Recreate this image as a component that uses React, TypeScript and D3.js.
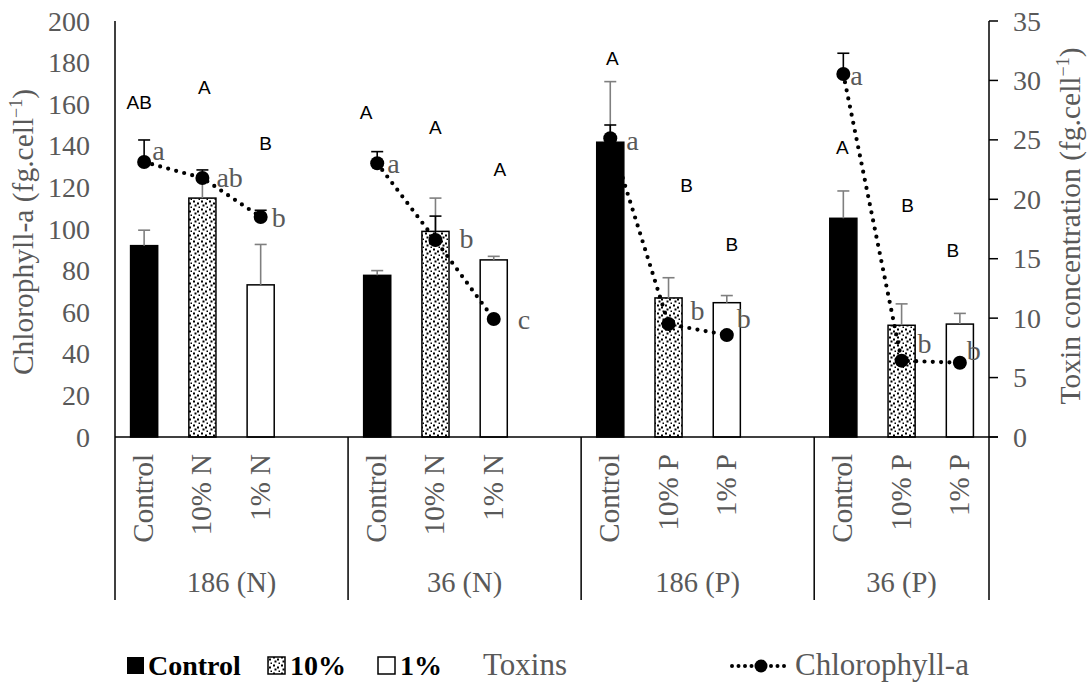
import React from "react";
import * as d3 from "d3";

// ---- data ----
const groups = ["186 (N)", "36 (N)", "186 (P)", "36 (P)"];
const treatments = [
  ["Control", "10% N", "1% N"],
  ["Control", "10% N", "1% N"],
  ["Control", "10% P", "1% P"],
  ["Control", "10% P", "1% P"],
];
const treatmentKinds = ["control", "ten", "one"];

// toxin concentration (fg.cell-1), bars on the right axis
const toxinMean = [
  [16.1, 20.1, 12.8],
  [13.6, 17.3, 14.9],
  [24.8, 11.7, 11.3],
  [18.4, 9.4, 9.5],
];
const toxinSd = [
  [1.3, 1.6, 3.4],
  [0.4, 2.8, 0.3],
  [5.1, 1.7, 0.6],
  [2.3, 1.8, 0.9],
];
// chlorophyll-a (fg.cell-1), dotted line on the left axis
const chlMean = [
  [132.2, 124.5, 105.8],
  [131.6, 94.7, 56.7],
  [143.6, 54.3, 49.0],
  [174.5, 36.7, 35.7],
];
const chlSd = [
  [10.6, 3.9, 3.2],
  [5.6, 11.5, 1.0],
  [6.4, 1.5, 1.5],
  [10.0, 1.0, 1.0],
];
const toxinLetters = [
  ["AB", "A", "B"],
  ["A", "A", "A"],
  ["A", "B", "B"],
  ["A", "B", "B"],
];
const chlLetters = [
  ["a", "ab", "b"],
  ["a", "b", "c"],
  ["a", "b", "b"],
  ["a", "b", "b"],
];
const leftTicks = [0, 20, 40, 60, 80, 100, 120, 140, 160, 180, 200];
const rightTicks = [0, 5, 10, 15, 20, 25, 30, 35];

// ---- layout ----
const W = 1088;
const H = 686;
const plotLeft = 115;
const plotRight = 989;
const plotTop = 21;
const plotBottom = 437;
const tableBottom = 600;

// significance letter placement: height in toxin units and x shift
const toxinLetterLevel = [
  [28.2, 29.4, 24.7],
  [27.3, 26.1, 22.5],
  [31.9, 21.2, 16.2],
  [24.4, 19.5, 15.7],
];
const toxinLetterShift = [
  [-5, 2, 5],
  [-11, 0, 6],
  [2, 18, 5],
  [-1, 6, -7],
];
// chlorophyll letters offset from the point [dx, dy]
const chlLetterOffset = [
  [[8, -2], [14, 9], [11, 10]],
  [[10, 10], [24, 8], [24, 10]],
  [[16, 12], [22, -4], [10, -7]],
  [[7, 11], [16, -8], [7, -3]],
];

const SERIF = "'Liberation Serif', 'Times New Roman', serif";
const SANS = "'Liberation Sans', Arial, sans-serif";
const GREY = "#595959";

export default function App() {
  // 15 slots: three per group with an empty slot between groups
  const slotKeys: string[] = [];
  groups.forEach((g, gi) => {
    treatments[gi].forEach((t, ti) => slotKeys.push(`${gi}-${ti}`));
    if (gi < groups.length - 1) slotKeys.push(`gap-${gi}`);
  });
  const x = d3.scaleBand<string>().domain(slotKeys).range([plotLeft, plotRight]).padding(0);
  const barW = x.bandwidth() * 0.465;
  const cx = (gi: number, ti: number) => (x(`${gi}-${ti}`) as number) + x.bandwidth() / 2;

  const yL = d3.scaleLinear().domain([0, 200]).range([plotBottom, plotTop]);
  const yR = d3.scaleLinear().domain([0, 35]).range([plotBottom, plotTop]);

  const groupStart = (gi: number) => x(`${gi}-0`) as number;
  const groupEnd = (gi: number) =>
    (x(`${gi}-2`) as number) + x.bandwidth() + (gi < groups.length - 1 ? x.bandwidth() : 0);

  const fillFor = (k: string) => (k === "control" ? "#000" : k === "ten" ? "url(#dots10)" : "#fff");

  const line = d3
    .line<[number, number]>()
    .x((d) => d[0])
    .y((d) => d[1]);

  const cap = 6;

  return (
    <svg width={W} height={H} style={{ position: "absolute", left: 0, top: 0, background: "#fff" }}>
      <defs>
        <pattern id="dots10" patternUnits="userSpaceOnUse" width={8} height={8}>
          <rect width={8} height={8} fill="#fff" />
          <rect x={1} y={0.5} width={2} height={2} fill="#000" />
          <rect x={5} y={2.5} width={2} height={2} fill="#000" />
          <rect x={2.5} y={4.5} width={2} height={2} fill="#000" />
          <rect x={6.5} y={6.5} width={2} height={2} fill="#000" />
        </pattern>
      </defs>

      {/* bars: toxin concentration */}
      {toxinMean.map((row, gi) =>
        row.map((v, ti) => (
          <rect
            key={`bar-${gi}-${ti}`}
            x={cx(gi, ti) - barW / 2}
            y={yR(v)}
            width={barW}
            height={yR(0) - yR(v)}
            fill={fillFor(treatmentKinds[ti])}
            stroke="#000"
            strokeWidth={1.5}
          />
        ))
      )}

      {/* bar error bars */}
      {toxinMean.map((row, gi) =>
        row.map((v, ti) => {
          const x0 = cx(gi, ti);
          const yTop = yR(v + toxinSd[gi][ti]);
          return (
            <g key={`be-${gi}-${ti}`} stroke="#7f7f7f" strokeWidth={1.6}>
              <line x1={x0} x2={x0} y1={yR(v)} y2={yTop} />
              <line x1={x0 - cap} x2={x0 + cap} y1={yTop} y2={yTop} />
            </g>
          );
        })
      )}

      {/* axes and category table */}
      <line x1={plotLeft} x2={plotLeft} y1={plotTop} y2={tableBottom} stroke="#000" strokeWidth={1.5} />
      <line x1={plotRight} x2={plotRight} y1={plotTop} y2={tableBottom} stroke="#000" strokeWidth={1.5} />
      <line x1={plotLeft} x2={plotRight + 9} y1={plotBottom} y2={plotBottom} stroke="#000" strokeWidth={1.5} />
      {groups.slice(1).map((g, i) => (
        <line
          key={`sep-${g}`}
          x1={groupStart(i + 1)}
          x2={groupStart(i + 1)}
          y1={plotBottom}
          y2={tableBottom}
          stroke="#000"
          strokeWidth={1.5}
        />
      ))}

      {leftTicks.map((t) => (
        <text
          key={`lt-${t}`}
          x={plotLeft - 25}
          y={yL(t)}
          dy="0.34em"
          textAnchor="end"
          fontFamily={SERIF}
          fontSize={28}
          fill={GREY}
        >
          {t}
        </text>
      ))}
      {rightTicks.map((t) => (
        <g key={`rt-${t}`}>
          <line x1={plotRight} x2={plotRight + 9} y1={yR(t)} y2={yR(t)} stroke="#000" strokeWidth={1.5} />
          <text x={plotRight + 24} y={yR(t)} dy="0.34em" fontFamily={SERIF} fontSize={28} fill={GREY}>
            {t}
          </text>
        </g>
      ))}

      <text
        transform={`translate(33, 232) rotate(-90)`}
        textAnchor="middle"
        fontFamily={SERIF}
        fontSize={29.5}
        fill={GREY}
      >
        Chlorophyll-a (fg.cell<tspan fontSize={18} dy={-11}>−1</tspan>
        <tspan dy={11}>)</tspan>
      </text>
      <text
        transform={`translate(1080, 226) rotate(-90)`}
        textAnchor="middle"
        fontFamily={SERIF}
        fontSize={29.5}
        fill={GREY}
      >
        Toxin concentration (fg.cell<tspan fontSize={18} dy={-11}>−1</tspan>
        <tspan dy={11}>)</tspan>
      </text>

      {/* category labels */}
      {treatments.map((row, gi) =>
        row.map((t, ti) => (
          <text
            key={`cat-${gi}-${ti}`}
            transform={`translate(${cx(gi, ti) + 9}, 454) rotate(-90)`}
            textAnchor="end"
            fontFamily={SERIF}
            fontSize={29}
            fill={GREY}
          >
            {t}
          </text>
        ))
      )}
      {groups.map((g, gi) => (
        <text
          key={`grp-${g}`}
          x={(groupStart(gi) + groupEnd(gi)) / 2}
          y={592}
          textAnchor="middle"
          fontFamily={SERIF}
          fontSize={28.5}
          fill={GREY}
        >
          {g}
        </text>
      ))}

      {/* chlorophyll-a dotted line */}
      {chlMean.map((row, gi) => (
        <path
          key={`ln-${gi}`}
          d={line(row.map((v, ti) => [cx(gi, ti), yL(v)] as [number, number])) || ""}
          fill="none"
          stroke="#000"
          strokeWidth={4.2}
          strokeDasharray="0 8.3"
          strokeLinecap="round"
        />
      ))}
      {chlMean.map((row, gi) =>
        row.map((v, ti) => {
          const x0 = cx(gi, ti);
          const yTop = yL(v + chlSd[gi][ti]);
          return (
            <g key={`ce-${gi}-${ti}`} stroke="#000" strokeWidth={1.6}>
              <line x1={x0} x2={x0} y1={yL(v)} y2={yTop} />
              <line x1={x0 - cap} x2={x0 + cap} y1={yTop} y2={yTop} />
            </g>
          );
        })
      )}
      {chlMean.map((row, gi) =>
        row.map((v, ti) => <circle key={`pt-${gi}-${ti}`} cx={cx(gi, ti)} cy={yL(v)} r={7} fill="#000" />)
      )}

      {/* significance letters */}
      {toxinLetters.map((row, gi) =>
        row.map((s, ti) => (
          <text
            key={`tl-${gi}-${ti}`}
            x={cx(gi, ti) + toxinLetterShift[gi][ti]}
            y={yR(toxinLetterLevel[gi][ti])}
            dy="0.36em"
            textAnchor="middle"
            fontFamily={SANS}
            fontSize={19}
            fill="#000"
          >
            {s}
          </text>
        ))
      )}
      {chlLetters.map((row, gi) =>
        row.map((s, ti) => (
          <text
            key={`cl-${gi}-${ti}`}
            x={cx(gi, ti) + chlLetterOffset[gi][ti][0]}
            y={yL(chlMean[gi][ti]) + chlLetterOffset[gi][ti][1]}
            fontFamily={SERIF}
            fontSize={28}
            fill={GREY}
          >
            {s}
          </text>
        ))
      )}

      {/* legend */}
      <g fontFamily={SERIF}>
        <rect x={127} y={657} width={17} height={17} fill="#000" />
        <text x={148} y={675} fontSize={28} fontWeight="bold" fill="#000">
          Control
        </text>
        <rect x={268} y={657} width={17} height={17} fill="url(#dots10)" stroke="#000" strokeWidth={1.5} />
        <text x={290} y={675} fontSize={28} fontWeight="bold" fill="#000">
          10%
        </text>
        <rect x={378} y={657} width={17} height={17} fill="#fff" stroke="#000" strokeWidth={1.5} />
        <text x={400} y={675} fontSize={28} fontWeight="bold" fill="#000">
          1%
        </text>
        <text x={483} y={675} fontSize={31} fill={GREY}>
          Toxins
        </text>
        <line
          x1={732}
          x2={790}
          y1={666}
          y2={666}
          stroke="#000"
          strokeWidth={4}
          strokeDasharray="0 6.5"
          strokeLinecap="round"
        />
        <circle cx={761} cy={666} r={6.5} fill="#000" />
        <text x={795} y={675} fontSize={31} fill={GREY}>
          Chlorophyll-a
        </text>
      </g>
    </svg>
  );
}
